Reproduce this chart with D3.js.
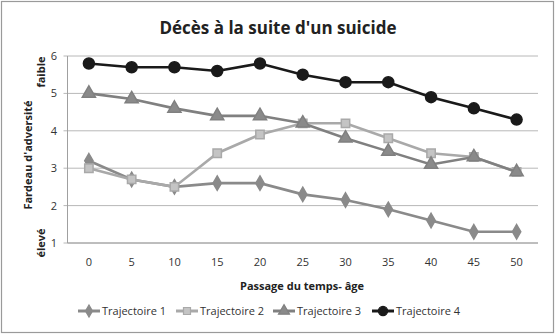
<!DOCTYPE html>
<html><head><meta charset="utf-8">
<script src="https://cdn.jsdelivr.net/npm/d3@7"></script>
<style>body{margin:0;background:#fff}svg{display:block}text{font-family:"Open Sans",sans-serif}</style>
</head><body><svg id="c" width="556" height="335"></svg>
<script>
const ages = [0,5,10,15,20,25,30,35,40,45,50];
const traj1 = [3.2,2.7,2.5,2.6,2.6,2.3,2.15,1.9,1.6,1.3,1.3];
const traj2 = [3.0,2.7,2.5,3.4,3.9,4.2,4.2,3.8,3.4,3.3,2.9];
const traj3 = [5.0,4.85,4.6,4.4,4.4,4.2,3.8,3.45,3.1,3.3,2.9];
const traj4 = [5.8,5.7,5.7,5.6,5.8,5.5,5.3,5.3,4.9,4.6,4.3];
const seriesNames = ["Trajectoire 1","Trajectoire 2","Trajectoire 3","Trajectoire 4"];
const yTicks = [1,2,3,4,5,6];
const title = "Décès à la suite d'un suicide";
const yTitle = "Fardeau d'adversité";
const xTitle = "Passage du temps- âge";

const styles = [
  {stroke:"#8a8a8a", fill:"#8a8a8a", shape:d3.symbolDiamond, size:60},
  {stroke:"#a9a9a9", fill:"#c4c4c4", shape:d3.symbolSquare, size:70},
  {stroke:"#808080", fill:"#8a8a8a", shape:d3.symbolTriangle, size:75},
  {stroke:"#1a1a1a", fill:"#1a1a1a", shape:d3.symbolCircle, size:95}
];
const data = [traj1,traj2,traj3,traj4];

const svg = d3.select("#c");
svg.append("rect").attr("x",1.5).attr("y",1.5).attr("width",552).attr("height",331)
  .attr("fill","#fff").attr("stroke","#9a9a9a").attr("stroke-width",1.2);

const L=67.5, R=538, T=56, B=243;
const x = d3.scaleBand().domain(ages).range([L,R]);
const y = d3.scaleLinear().domain([1,6]).range([B,T]);
const cx = a => x(a)+x.bandwidth()/2;

// gridlines
svg.append("g").selectAll("line").data(yTicks).join("line")
  .attr("x1",L-4).attr("x2",R).attr("y1",d=>y(d)).attr("y2",d=>y(d))
  .attr("stroke","#b8b8b8").attr("stroke-width",1);
svg.append("line").attr("x1",L).attr("x2",L).attr("y1",T).attr("y2",B).attr("stroke","#a0a0a0");
svg.append("line").attr("x1",L).attr("x2",R).attr("y1",B).attr("y2",B).attr("stroke","#a0a0a0");

// axes labels
svg.append("g").selectAll("text").data(yTicks).join("text")
  .attr("x",57).attr("y",d=>y(d)+4).attr("text-anchor","end")
  .attr("font-size",11).attr("fill","#333").text(d=>d);
svg.append("g").selectAll("text").data(ages).join("text")
  .attr("x",d=>cx(d)).attr("y",266).attr("text-anchor","middle")
  .attr("font-size",11).attr("fill","#333").text(d=>d);

// titles
svg.append("text").attr("x",278).attr("y",34).attr("text-anchor","middle")
  .attr("font-size",17).attr("font-weight","bold").attr("fill","#222").text(title);
svg.append("text").attr("transform","translate(32,155) rotate(-90)").attr("text-anchor","middle")
  .attr("font-size",11).attr("font-weight","bold").attr("fill","#222").text(yTitle);
svg.append("text").attr("transform","translate(45,72) rotate(-90)").attr("text-anchor","middle")
  .attr("font-size",11).attr("font-weight","bold").attr("fill","#222").text("faible");
svg.append("text").attr("transform","translate(45,243) rotate(-90)").attr("text-anchor","middle")
  .attr("font-size",11).attr("font-weight","bold").attr("fill","#222").text("élevé");
svg.append("text").attr("x",302).attr("y",290).attr("text-anchor","middle")
  .attr("font-size",11).attr("font-weight","bold").attr("fill","#222").text(xTitle);

// series
const line = d3.line().x((d,i)=>cx(ages[i])).y(d=>y(d));
data.forEach((vals,si)=>{
  const s = styles[si];
  const g = svg.append("g");
  g.append("path").datum(vals).attr("d",line).attr("fill","none")
    .attr("stroke",s.stroke).attr("stroke-width",2.6);
  g.selectAll("path.m").data(vals).join("path").attr("class","m")
    .attr("transform",(d,i)=>`translate(${cx(ages[i])},${y(d)})`)
    .attr("d",d3.symbol().type(s.shape).size(s.size))
    .attr("fill",s.fill).attr("stroke",s.stroke).attr("stroke-width",1.5);
});

// legend
const legX = [78,176,273,372];
seriesNames.forEach((n,si)=>{
  const s = styles[si], lx = legX[si], ly = 311;
  svg.append("line").attr("x1",lx).attr("x2",lx+22).attr("y1",ly).attr("y2",ly)
    .attr("stroke",s.stroke).attr("stroke-width",3);
  svg.append("path").attr("transform",`translate(${lx+11},${ly})`)
    .attr("d",d3.symbol().type(s.shape).size(s.size*0.7))
    .attr("fill",s.fill).attr("stroke",s.stroke).attr("stroke-width",1.2);
  svg.append("text").attr("x",lx+24).attr("y",ly+4).attr("font-size",11)
    .attr("fill","#333").text(n);
});
</script></body></html>
